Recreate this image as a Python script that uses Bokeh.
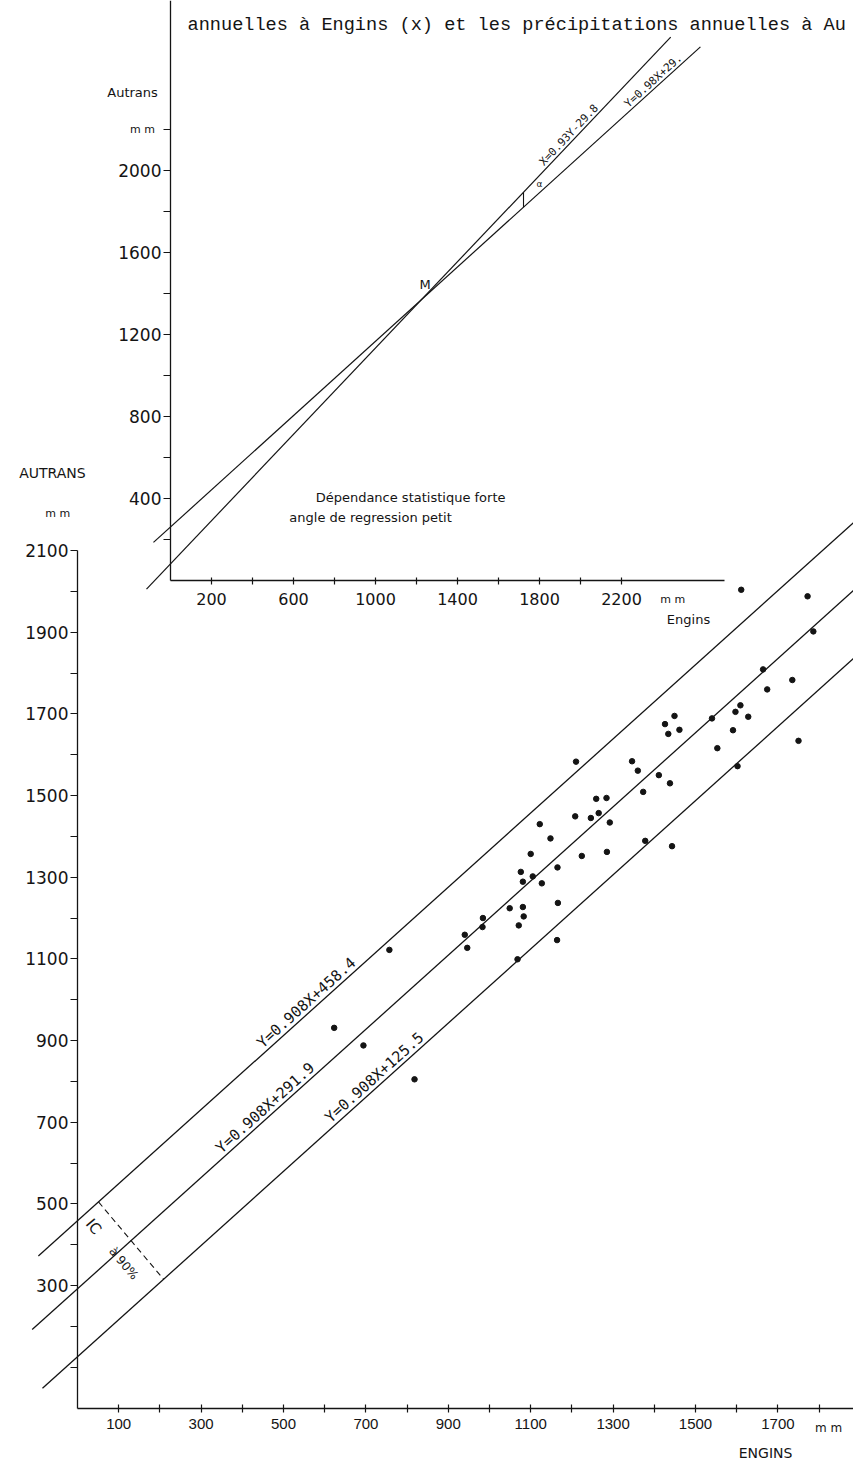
import math
from bokeh.plotting import figure
from bokeh.models import Range1d, LinearAxis, FixedTicker, Grid
from bokeh.core.properties import value
from bokeh.embed import file_html
from bokeh.resources import INLINE

# ---------------- data ----------------
# annual precipitation, mm : Engins (x) vs Autrans (y)
engins = [1611, 1772, 1786, 1664, 1674, 1735, 1609, 1597, 1628, 1540, 1591, 1553, 1750, 1602,
          1449, 1426, 1461, 1434, 1346, 1360, 1411, 1438, 1373, 1378, 1443, 1210, 1259, 1284,
          1208, 1246, 1265, 1292, 1122, 1148, 1224, 1285, 1100, 1165, 1076, 1105, 1081, 1127,
          1166, 1049, 1081, 1083, 1071, 1164, 1068, 984, 983, 940, 946, 757, 623, 694,
          818]
autrans = [2004, 1988, 1902, 1809, 1760, 1783, 1721, 1705, 1693, 1689, 1660, 1616, 1634, 1572,
           1695, 1675, 1661, 1651, 1584, 1561, 1550, 1530, 1509, 1389, 1376, 1583, 1492, 1494,
           1449, 1445, 1457, 1434, 1430, 1395, 1352, 1362, 1357, 1324, 1313, 1302, 1289, 1285,
           1237, 1224, 1227, 1204, 1182, 1146, 1099, 1200, 1178, 1159, 1127, 1122, 931, 888,
           805]

# regression line and its 90 % band
reg_slope = 0.908
reg_intercepts = [458.4, 291.9, 125.5]
reg_labels = ["Y=0.908X+458.4", "Y=0.908X+291.9", "Y=0.908X+125.5"]
reg_x_start = [-95, -110, -85]
reg_x_end = [1950, 1950, 1950]
reg_label_x = [570, 470, 735]

# main axis ticks
main_x_ticks = list(range(100, 1900, 100))
main_x_labelled = [100, 300, 500, 700, 900, 1100, 1300, 1500, 1700]
main_y_ticks = list(range(100, 2200, 100))
main_y_labelled = [300, 500, 700, 900, 1100, 1300, 1500, 1700, 1900, 2100]

# inset: two regression lines crossing at M
inset_slopes = [0.906, 1.053]
inset_intercepts = [261, 81]
inset_x_start = [-83, -117]
inset_x_end = [2585, 2440]
inset_labels = ["Y=0.98X+29.", "X=0.93Y-29.8"]
inset_label_x = [2376, 1966]
inset_x_ticks = list(range(200, 2400, 200))
inset_x_labelled = [200, 600, 1000, 1400, 1800, 2200]
inset_y_ticks = list(range(200, 2400, 200))
inset_y_labelled = [400, 800, 1200, 1600, 2000]

caption = "annuelles à Engins (x) et les précipitations annuelles à Au"

# ---------------- geometry (page pixels) ----------------
M = 0
W, H = 853, 1462
MX0, MSX = 77.0, 0.412      # main: page x of X=0, px per mm
MY0, MSY = 1407.5, 0.4083   # main: page y of Y=0, px per mm
IX0, IS = 170.0, 0.205      # inset
IY0 = 580.0


def xr(x0, s):
    return Range1d((M - x0) / s, (M + W - x0) / s)


def yr(y0, s):
    return Range1d((y0 - M - H) / s, (y0 - M) / s)


p = figure(width=W, height=H, x_range=xr(MX0, MSX), y_range=yr(MY0, MSY),
           output_backend="svg", toolbar_location=None,
           x_axis_location=None, y_axis_location=None, min_border=0,
           outline_line_color=None, background_fill_color="white",
           border_fill_color="white")
p.extra_x_ranges = {"ix": xr(IX0, IS)}
p.extra_y_ranges = {"iy": yr(IY0, IS)}
p.center = [c for c in p.center if not isinstance(c, Grid)]

INK = "#141414"


def style(ax, font, size, tin, tout, standoff):
    ax.axis_line_color = INK
    ax.axis_line_width = 1.3
    ax.major_tick_line_color = INK
    ax.major_tick_line_width = 1.2
    ax.major_tick_in = tin
    ax.major_tick_out = tout
    ax.minor_tick_line_color = None
    ax.major_label_text_font = font
    ax.major_label_text_font_size = size
    ax.major_label_text_color = INK
    ax.major_label_standoff = standoff


def overrides(ticks, labelled):
    return {t: (str(t) if t in labelled else "") for t in ticks}


# main axes
ax = LinearAxis(fixed_location=0, bounds=(0, 1900),
                ticker=FixedTicker(ticks=main_x_ticks),
                major_label_overrides=overrides(main_x_ticks, main_x_labelled))
style(ax, "Liberation Sans", "15px", 4, 4, 7)
p.add_layout(ax, "below")

ay = LinearAxis(fixed_location=0, bounds=(0, 2100),
                ticker=FixedTicker(ticks=main_y_ticks),
                major_label_overrides=overrides(main_y_ticks, main_y_labelled))
style(ay, "DejaVu Sans", "17px", 0, 7, 2)
p.add_layout(ay, "left")

# inset axes
iax = LinearAxis(x_range_name="ix", y_range_name="iy", fixed_location=0, bounds=(0, 2700),
                 ticker=FixedTicker(ticks=inset_x_ticks),
                 major_label_overrides=overrides(inset_x_ticks, inset_x_labelled))
style(iax, "DejaVu Sans", "16px", 3, 4, 8)
p.add_layout(iax, "below")

iay = LinearAxis(x_range_name="ix", y_range_name="iy", fixed_location=0, bounds=(0, 2900),
                 ticker=FixedTicker(ticks=inset_y_ticks),
                 major_label_overrides=overrides(inset_y_ticks, inset_y_labelled))
style(iay, "DejaVu Sans", "17px", 0, 7, 2)
p.add_layout(iay, "left")

# ---------------- main chart ----------------
xs = [[a, b] for a, b in zip(reg_x_start, reg_x_end)]
ys = [[reg_slope * a + c, reg_slope * b + c] for a, b, c in zip(reg_x_start, reg_x_end, reg_intercepts)]
p.multi_line(xs, ys, line_color=INK, line_width=1.3)

ang_main = math.atan(reg_slope * MSY / MSX)
p.text(x=reg_label_x, y=[reg_slope * x + c for x, c in zip(reg_label_x, reg_intercepts)],
       text=reg_labels, angle=ang_main, text_align="center", text_baseline="bottom",
       text_font=value("DejaVu Sans Mono"), text_font_size="15px", text_color=INK)

p.scatter(engins, autrans, size=5.5, color=INK)

# confidence-interval marker
ic_x = [51, 209]
ic_y = [reg_slope * ic_x[0] + reg_intercepts[0], reg_slope * ic_x[1] + reg_intercepts[2]]
p.line(ic_x, ic_y, line_color=INK, line_width=1.1, line_dash="6 4")
ang_ic = -math.atan2((ic_y[0] - ic_y[1]) * MSY, (ic_x[1] - ic_x[0]) * MSX)
p.text(x=[39], y=[444], text=["IC"], angle=ang_ic, text_align="center", text_baseline="middle",
       text_font=value("DejaVu Sans"), text_font_size="15px", text_color=INK)
p.text(x=[112], y=[354], text=["à 90%"], angle=ang_ic, text_align="center", text_baseline="middle",
       text_font=value("DejaVu Sans"), text_font_size="12px", text_color=INK)

# main axis titles
p.text(x=[-61, -48], y=[2290, 2190], text=["AUTRANS", "m m"], text_align="center",
       text_baseline="middle", text_font=value("DejaVu Sans"),
       text_font_size=["14px", "11px"], text_color=INK)
p.text(x=[1823], y=[-48], text=["m m"], text_align="center", text_baseline="middle",
       text_font=value("DejaVu Sans"), text_font_size="12px", text_color=INK)
p.text(x=[1670], y=[-111], text=["ENGINS"], text_align="center", text_baseline="middle",
       text_font=value("DejaVu Sans"), text_font_size="14px", text_color=INK)

# caption line at the top (the scan is cut at the right edge)
p.text(x=[267], y=[3386], text=[caption], text_align="left", text_baseline="middle",
       text_font=value("Liberation Mono"), text_font_size="18.6px", text_color=INK)

# ---------------- inset ----------------
ixs = [[a, b] for a, b in zip(inset_x_start, inset_x_end)]
iys = [[s * a + c, s * b + c] for a, b, s, c in zip(inset_x_start, inset_x_end, inset_slopes, inset_intercepts)]
p.multi_line(ixs, iys, line_color=INK, line_width=1.2, x_range_name="ix", y_range_name="iy")

for lx, s, c, lab in zip(inset_label_x, inset_slopes, inset_intercepts, inset_labels):
    p.text(x=[lx], y=[s * lx + c], text=[lab], angle=math.atan(s), text_align="center",
           text_baseline="bottom", text_font=value("DejaVu Sans Mono"), text_font_size="11px",
           text_color=INK, x_range_name="ix", y_range_name="iy")

# angle marker between the two lines
ax_a = 1722
p.segment(x0=[ax_a], y0=[inset_slopes[0] * ax_a + inset_intercepts[0]],
          x1=[ax_a], y1=[inset_slopes[1] * ax_a + inset_intercepts[1]],
          line_color=INK, line_width=1.1, x_range_name="ix", y_range_name="iy")
p.text(x=[1800], y=[1935], text=["α"], text_align="center", text_baseline="middle",
       text_font=value("DejaVu Sans"), text_font_size="9px", text_color=INK,
       x_range_name="ix", y_range_name="iy")

p.text(x=[1215], y=[1444], text=["M"], text_align="left", text_baseline="middle",
       text_font=value("DejaVu Sans"), text_font_size="13px", text_color=INK,
       x_range_name="ix", y_range_name="iy")

p.text(x=[-185, -137, 2450, 2527], y=[2380, 2200, -95, -190],
       text=["Autrans", "m m", "m m", "Engins"],
       text_align="center", text_baseline="middle", text_font=value("DejaVu Sans"),
       text_font_size=["13px", "11px", "11px", "13px"], text_color=INK,
       x_range_name="ix", y_range_name="iy")

p.text(x=[1171, 976], y=[405, 307],
       text=["Dépendance statistique forte", "angle de regression petit"],
       text_align="center", text_baseline="middle", text_font=value("DejaVu Sans"),
       text_font_size="13px", text_color=INK, x_range_name="ix", y_range_name="iy")

open("out.html", "w").write(file_html(p, INLINE))
